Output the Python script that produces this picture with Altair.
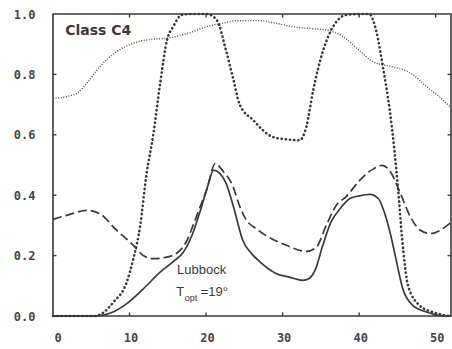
import altair as alt
import pandas as pd

# Axis ticks
x_ticks = [0, 10, 20, 30, 40, 50]
y_ticks = [0.0, 0.2, 0.4, 0.6, 0.8, 1.0]

# Solid curve (Lubbock, T_opt = 19°)
solid_x = [0, 5, 6.5, 8, 9.6, 11.8, 14, 15.7, 17, 18.2, 19.2, 20.1, 21, 21.8, 22.6,
           23.6, 24.8, 26, 27, 29.2, 31, 32.6, 33.5, 34.3, 35.2, 36.3, 37.5, 38.8,
           40, 41.4, 42.5, 43.2, 44.1, 44.8, 45.7, 47, 48.8, 50, 52]
solid_y = [0, 0, 0.003, 0.015, 0.04, 0.09, 0.145, 0.18, 0.21, 0.27, 0.345, 0.42, 0.483,
           0.472, 0.44, 0.36, 0.25, 0.205, 0.18, 0.14, 0.128, 0.118, 0.125, 0.155, 0.23,
           0.31, 0.355, 0.389, 0.398, 0.403, 0.389, 0.35, 0.27, 0.19, 0.09, 0.035,
           0.013, 0.004, 0]

# Dashed curve
dash_x = [0, 2, 4.4, 6.1, 8.3, 10.5, 11.8, 13.1, 14.9, 16.6, 17.5, 18.3, 19.2, 20.1,
          21.2, 22.2, 23.5, 24.3, 25.2, 26.5, 27.8, 30.5, 33.1, 34.4, 35.7, 37, 38.3,
          40.1, 41.9, 43, 44.1, 45.4, 46.7, 48, 49.3, 50.6, 52]
dash_y = [0.32, 0.335, 0.35, 0.339, 0.284, 0.234, 0.2, 0.19, 0.195, 0.217, 0.25, 0.3,
          0.36, 0.42, 0.505, 0.48, 0.43, 0.37, 0.32, 0.29, 0.267, 0.234, 0.214, 0.228,
          0.3, 0.366, 0.395, 0.45, 0.488, 0.499, 0.477, 0.405, 0.328, 0.284, 0.273,
          0.284, 0.31]

# Heavy dotted curve
heavy_x = [0, 5.5, 6.5, 7.9, 9.6, 10.5, 11.4, 12.2, 13.1, 14, 14.9, 15.7, 16.8, 18,
           20.1, 21.4, 22.6, 23.5, 24.4, 26.1, 28.7, 30.5, 32.2, 33.1, 34, 35.3, 36.6,
           38.3, 40, 41.3, 42.2, 43.1, 44, 44.6, 45.1, 45.6, 46.4, 47.9, 49.6, 51, 52]
heavy_y = [0, 0, 0.01, 0.046, 0.11, 0.19, 0.3, 0.466, 0.6, 0.77, 0.914, 0.958, 0.997,
           1.0, 1.0, 0.98, 0.88, 0.79, 0.7, 0.65, 0.593, 0.585, 0.582, 0.626, 0.748,
           0.88, 0.958, 0.997, 1.0, 1.0, 0.947, 0.825, 0.68, 0.55, 0.416, 0.26, 0.1,
           0.035, 0.013, 0.003, 0]

# Fine dotted curve
fine_x = [0, 2, 3.1, 4.4, 6.1, 8.3, 10.5, 12.7, 14.9, 17.5, 20.1, 22.3, 24, 27, 29,
          31.3, 33.5, 35.7, 37.9, 40, 41.8, 44.4, 46.8, 48.8, 50.5, 52]
fine_y = [0.72, 0.728, 0.737, 0.77, 0.825, 0.875, 0.903, 0.916, 0.92, 0.935, 0.958,
          0.97, 0.978, 0.978, 0.97, 0.958, 0.952, 0.947, 0.925, 0.88, 0.842, 0.825,
          0.803, 0.76, 0.725, 0.69]

# Annotations
notes_text = ["Class C4", "Lubbock", "T", "opt", "=19°"]
notes_x = [1.6, 16.2, 16.1, 17.2, 19.3]
notes_y = [0.945, 0.151, 0.078, 0.058, 0.081]
notes_size = [14, 13, 13, 9, 13]
notes_weight = ["bold", "normal", "normal", "normal", "normal"]

INK = "#3a3a3a"
X_MAX = 52

x_scale = alt.Scale(domain=[0, X_MAX], nice=False, zero=False)
y_scale = alt.Scale(domain=[0, 1], nice=False)

label_style = dict(
    labelFont="DejaVu Sans Mono", labelFontWeight="bold", labelFontSize=12,
    labelColor="#454545", ticks=False, domain=False, grid=False, title=None,
)
x_axis = alt.Axis(values=x_ticks, format="d", labelPadding=16, labelOffset=1, **label_style)
y_axis = alt.Axis(values=y_ticks, format=".1f", labelPadding=18, **label_style)

X = alt.X("x:Q", scale=x_scale, axis=x_axis)
Y = alt.Y("y:Q", scale=y_scale, axis=y_axis)


def curve(xs, ys, **mark):
    df = pd.DataFrame({"x": xs, "y": ys})
    return alt.Chart(df).mark_line(interpolate="monotone", color=INK, **mark).encode(x=X, y=Y)


fine = curve(fine_x, fine_y, strokeWidth=1.4, strokeDash=[1, 1.6], opacity=0.9)
heavy = curve(heavy_x, heavy_y, strokeWidth=2.6, strokeDash=[0.3, 3.9], strokeCap="round")
dashed = curve(dash_x, dash_y, strokeWidth=1.7, strokeDash=[9, 4])
solid = curve(solid_x, solid_y, strokeWidth=1.7)

# Small inward tick marks on all four sides of the frame
tick_rows = []
for v in y_ticks[1:-1]:
    tick_rows.append({"x": 0, "x2": 0.45, "y": v, "y2": v})
    tick_rows.append({"x": X_MAX - 0.45, "x2": X_MAX, "y": v, "y2": v})
for v in x_ticks[1:]:
    tick_rows.append({"x": v, "x2": v, "y": 0, "y2": 0.012})
    tick_rows.append({"x": v, "x2": v, "y": 0.988, "y2": 1})
ticks = alt.Chart(pd.DataFrame(tick_rows)).mark_rule(color=INK, strokeWidth=1.4).encode(
    x=X, x2="x2:Q", y=Y, y2="y2:Q"
)

notes_df = pd.DataFrame({
    "x": notes_x, "y": notes_y, "t": notes_text,
    "s": notes_size, "w": notes_weight,
})
notes_big = alt.Chart(notes_df[notes_df["w"] == "bold"]).mark_text(
    align="left", baseline="middle", font="DejaVu Sans", fontWeight="bold",
    fontSize=14, color=INK,
).encode(x=X, y=Y, text="t:N")
notes_plain = alt.Chart(notes_df[(notes_df["w"] == "normal") & (notes_df["s"] > 10)]).mark_text(
    align="left", baseline="middle", font="Liberation Sans", fontSize=13, color=INK,
).encode(x=X, y=Y, text="t:N")
notes_sub = alt.Chart(notes_df[notes_df["s"] <= 10]).mark_text(
    align="left", baseline="middle", font="Liberation Sans", fontSize=9, color=INK,
).encode(x=X, y=Y, text="t:N")

chart = (
    alt.layer(fine, heavy, dashed, solid, ticks, notes_big, notes_plain, notes_sub)
    .properties(
        width=398, height=302,
        autosize=alt.AutoSizeParams(type="none"),
        padding={"left": 53, "top": 14, "right": 1, "bottom": 33},
        background="white",
    )
    .configure_view(stroke=INK, strokeWidth=1.6)
)

chart.save("out.html", embed_options={"renderer": "svg", "actions": False})
